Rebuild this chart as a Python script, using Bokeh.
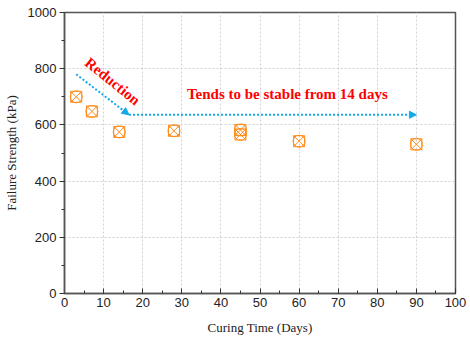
from bokeh.plotting import figure
from bokeh.models import Arrow, NormalHead, Range1d, SingleIntervalTicker, ColumnDataSource, Label
from bokeh.embed import file_html
from bokeh.resources import INLINE

# data
days = [3, 7, 14, 28, 45, 45, 60, 90]
strength = [700, 648, 575, 579, 582, 566, 542, 531]

x_ticks = list(range(0, 101, 10))
y_ticks = list(range(0, 1001, 200))

# annotation arrows (data coords)
reduction_arrow = dict(x_start=3, y_start=780, x_end=16.5, y_end=636)
stable_arrow = dict(x_start=16.5, y_start=636, x_end=90, y_end=636)

p = figure(frame_width=391, frame_height=281, output_backend="svg", toolbar_location=None,
           x_range=Range1d(0, 100), y_range=Range1d(0, 1000),
           min_border_left=60, min_border_right=11, min_border_top=12, min_border_bottom=48)

p.background_fill_color = "white"
p.border_fill_color = "white"
p.outline_line_color = "#555555"
p.outline_line_width = 1.5

p.xaxis.ticker = SingleIntervalTicker(interval=10, num_minor_ticks=2)
p.yaxis.ticker = SingleIntervalTicker(interval=200, num_minor_ticks=2)

for ax in (p.xaxis[0], p.yaxis[0]):
    ax.axis_line_color = "#555555"
    ax.axis_line_width = 1.5
    ax.major_tick_line_color = "#333333"
    ax.minor_tick_line_color = "#333333"
    ax.major_label_text_font = "Liberation Sans"
    ax.major_label_text_font_size = "13px"
    ax.major_label_text_color = "#222222"
    ax.axis_label_text_font = "Liberation Serif"
    ax.axis_label_text_font_style = "normal"
    ax.axis_label_text_font_size = "13px"
    ax.axis_label_text_color = "#222222"

p.xaxis.major_tick_in = 5
p.xaxis.major_tick_out = 0
p.xaxis.minor_tick_in = 3
p.xaxis.minor_tick_out = 0
p.xaxis.major_label_standoff = 4
p.xaxis.axis_label = "Curing Time (Days)"
p.xaxis.axis_label_standoff = 10

p.yaxis.major_tick_out = 5
p.yaxis.major_tick_in = 0
p.yaxis.minor_tick_out = 3
p.yaxis.minor_tick_in = 0
p.yaxis.major_label_standoff = 3
p.yaxis.axis_label = "Failure Strength (kPa)"
p.yaxis.axis_label_standoff = 6

p.grid.grid_line_color = "#d0d0d0"
p.grid.grid_line_dash = "2 2"
p.grid.grid_line_width = 1

src = ColumnDataSource(dict(x=days, y=strength))
orange = "#FF8C1A"
p.scatter("x", "y", source=src, marker="square_x", size=11, fill_alpha=0,
          line_color=orange, line_width=1)
p.scatter("x", "y", source=src, marker="circle", size=12, fill_alpha=0,
          line_color=orange, line_width=1)

blue = "#12A9E8"
for a in (reduction_arrow, stable_arrow):
    p.add_layout(Arrow(end=NormalHead(size=7, fill_color=blue, line_color=blue),
                       line_color=blue, line_width=2, line_dash="2 2", **a))

p.add_layout(Label(x=12.3, y=755, text="Reduction", angle=-0.68,
                   text_font="Liberation Serif", text_font_style="bold",
                   text_font_size="15px", text_color="#FF0000",
                   text_align="center", text_baseline="middle"))
p.add_layout(Label(x=57, y=710, text="Tends to be stable from 14 days",
                   text_font="Liberation Serif", text_font_style="bold",
                   text_font_size="15px", text_color="#FF0000",
                   text_align="center", text_baseline="middle"))

open("out.html", "w").write(file_html(p, INLINE))
